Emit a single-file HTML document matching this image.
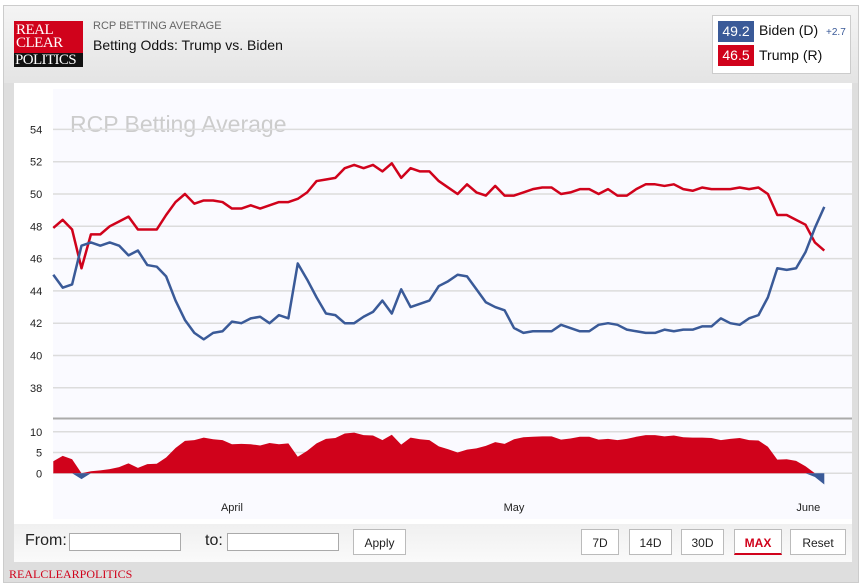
<!DOCTYPE html>
<html><head><meta charset="utf-8">
<style>
body{margin:0;width:864px;height:587px;background:#fff;font-family:"Liberation Sans",sans-serif;overflow:hidden;position:relative}
.abs{position:absolute}
.btn{position:absolute;top:529px;height:26px;border:1px solid #bbb;background:#fff;font:12px "Liberation Sans",sans-serif;color:#222;text-align:center;line-height:26px;box-sizing:border-box}
.inp{position:absolute;top:533px;height:18px;border:1px solid #aaa;background:#fff;box-sizing:border-box}
</style></head><body>
<div class="abs" style="left:3px;top:5px;width:856px;height:578px;background:#dedede;border:1px solid #ccc;box-sizing:border-box"></div>
<div class="abs" style="left:4px;top:6px;width:854px;height:77px;background:linear-gradient(#f4f4f4,#e4e4e4)"></div>
<div class="abs" style="left:14px;top:21px;width:69px;height:46px;background:#d0021b;font-family:'Liberation Serif',serif;color:#fff;font-size:15px;line-height:13px;padding:3px 0 0 2px;box-sizing:border-box;letter-spacing:-0.5px;overflow:hidden">REAL<br>CLEAR<div style="position:absolute;left:0;top:32px;width:69px;height:14px;background:#111;padding-left:1px;box-sizing:border-box;font-size:15px;line-height:14px;letter-spacing:-0.6px">POLITICS</div></div>
<div class="abs" style="left:93px;top:20px;font-size:11px;color:#666">RCP BETTING AVERAGE</div>
<div class="abs" style="left:93px;top:37px;font-size:14px;color:#111">Betting Odds: Trump vs. Biden</div>
<div class="abs" style="left:712px;top:15px;width:139px;height:59px;background:#fff;border:1px solid #ccc;box-sizing:border-box"></div>
<div class="abs" style="left:718px;top:21px;width:36px;height:21px;background:#3a5a98;color:#fff;font-size:14px;text-align:center;line-height:21px">49.2</div>
<div class="abs" style="left:759px;top:22px;font-size:14px;color:#111">Biden (D) <span style="font-size:10px;color:#3a5a98;margin-left:4px">+2.7</span></div>
<div class="abs" style="left:718px;top:45px;width:36px;height:21px;background:#d0021b;color:#fff;font-size:14px;text-align:center;line-height:21px">46.5</div>
<div class="abs" style="left:759px;top:47px;font-size:14px;color:#111">Trump (R)</div>
<div class="abs" style="left:14px;top:83px;width:838px;height:441px;background:#fff"></div>
<svg class="abs" style="left:0;top:0" width="864" height="587">
<rect x="53" y="89" width="799" height="430" fill="#fafaff"/>
<text x="70" y="132" font-size="23" fill="#ccc" font-family="Liberation Sans,sans-serif">RCP Betting Average</text>
<g id="grid"></g><g id="marks"></g>
</svg>
<div class="abs" style="left:14px;top:524px;width:838px;height:38px;background:linear-gradient(#f0f0f0,#fafafa)"></div>
<div class="abs" style="left:25px;top:532px;font-size:16px;color:#222">From:</div>
<div class="inp" style="left:69px;width:112px"></div>
<div class="abs" style="left:205px;top:532px;font-size:16px;color:#222">to:</div>
<div class="inp" style="left:227px;width:112px"></div>
<div class="btn" style="left:353px;width:53px">Apply</div>
<div class="btn" style="left:581px;width:38px">7D</div>
<div class="btn" style="left:629px;width:43px">14D</div>
<div class="btn" style="left:681px;width:43px">30D</div>
<div class="btn" style="left:734px;width:48px;color:#d0021b;font-weight:bold;border-bottom:2px solid #d0021b">MAX</div>
<div class="btn" style="left:790px;width:56px">Reset</div>
<div class="abs" style="left:9px;top:567px;font-family:'Liberation Serif',serif;font-size:12px;color:#d0021b">REALCLEARPOLITICS</div>
<script>
const trump=[47.9,48.4,47.8,45.4,47.5,47.5,48.0,48.3,48.6,47.8,47.8,47.8,48.7,49.5,50.0,49.4,49.6,49.6,49.5,49.1,49.1,49.3,49.1,49.3,49.5,49.5,49.7,50.1,50.8,50.9,51.0,51.6,51.8,51.6,51.8,51.4,51.9,51.0,51.6,51.4,51.4,50.8,50.4,50.0,50.6,50.1,49.9,50.5,49.9,49.9,50.1,50.3,50.4,50.4,50.0,50.1,50.3,50.3,50.0,50.3,49.9,49.9,50.3,50.6,50.6,50.5,50.6,50.3,50.2,50.4,50.3,50.3,50.3,50.4,50.3,50.4,50.0,48.7,48.7,48.4,48.1,47.0,46.5];
const biden=[45.0,44.2,44.4,46.8,47.0,46.8,47.0,46.8,46.2,46.5,45.6,45.5,44.9,43.4,42.2,41.4,41.0,41.4,41.5,42.1,42.0,42.3,42.4,42.0,42.5,42.3,45.7,44.7,43.6,42.6,42.5,42.0,42.0,42.4,42.7,43.4,42.6,44.1,43.0,43.2,43.4,44.3,44.6,45.0,44.9,44.1,43.3,43.0,42.8,41.7,41.4,41.5,41.5,41.5,41.9,41.7,41.5,41.5,41.9,42.0,41.9,41.6,41.5,41.4,41.4,41.6,41.5,41.6,41.6,41.8,41.8,42.3,42.0,41.9,42.3,42.5,43.6,45.4,45.3,45.4,46.4,47.9,49.2];
const mainTicks=[38,40,42,44,46,48,50,52,54];
const spreadTicks=[0,5,10];
const monthLabels=["April","May","June"];
const monthIndex=[19,49,80.3];
const NS="http://www.w3.org/2000/svg";
const X0=53.3,X1=824.3;
const xs=i=>X0+i*(X1-X0)/(trump.length-1);
const ys=v=>161.7-(v-52)*16.15;
const ys2=v=>473.3-v*4.15;
const grid=document.getElementById('grid'),marks=document.getElementById('marks');
function mk(tag,attrs,parent){const e=document.createElementNS(NS,tag);for(const k in attrs)e.setAttribute(k,attrs[k]);parent.appendChild(e);return e;}
mainTicks.forEach(t=>{
 const l=mk('line',{x1:53,x2:852,y1:ys(t),y2:ys(t),stroke:'#dcdcdc','stroke-width':1.5},grid);
 
 
 const tx=mk('text',{x:30,y:ys(t)+4,'font-size':11,fill:'#222','font-family':'Liberation Sans,sans-serif'},grid);
 tx.textContent=t;
 
 
});
const sep=mk('line',{x1:53,x2:852,y1:418.5,y2:418.5,stroke:'#aaa','stroke-width':2},grid);


spreadTicks.forEach(t=>{
 const l=mk('line',{x1:53,x2:852,y1:ys2(t),y2:ys2(t),stroke:'#dcdcdc','stroke-width':1.5},grid);
 
 
 const tx=mk('text',{x:t==10?30:36,y:ys2(t)+4,'font-size':11,fill:'#222','font-family':'Liberation Sans,sans-serif'},grid);
 tx.textContent=t;
 
 
});
monthLabels.forEach((m,k)=>{
 const tx=mk('text',{x:xs(monthIndex[k]),y:511,'font-size':11,fill:'#222','text-anchor':'middle','font-family':'Liberation Sans,sans-serif'},grid);
 tx.textContent=m;
 
 
});
const sp=trump.map((t,i)=>t-biden[i]);
function area(sign,color,name){
 let d='M'+xs(0)+','+ys2(0);
 sp.forEach((v,i)=>{const c=sign>0?Math.max(v,0):Math.min(v,0);d+='L'+xs(i)+','+ys2(c);});
 d+='L'+xs(sp.length-1)+','+ys2(0)+'Z';
 const p=mk('path',{d:d,fill:color},marks);
 
 
}
area(1,'#d0021b','spread-area-trump');
area(-1,'#3a5a98','spread-area-biden');
function line(arr,color,name){
 const p=mk('polyline',{points:arr.map((v,i)=>xs(i)+','+ys(v)).join(' '),fill:'none',stroke:color,'stroke-width':2.5,'stroke-linejoin':'round'},marks);
 
 
}
line(trump,'#d0021b','trump-line');
line(biden,'#3a5a98','biden-line');
</script>
</body></html>
